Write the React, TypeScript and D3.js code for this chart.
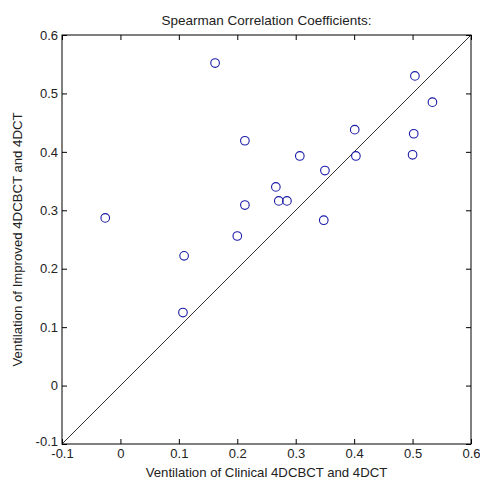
import React, { useRef, useEffect } from "react";
import * as d3 from "d3";

// values
const clinical = [0.162, 0.213, 0.307, 0.266, 0.271, 0.285, 0.213, 0.2, 0.504, 0.534, 0.401, 0.502, 0.403, 0.5, 0.35, 0.348, -0.026, 0.109, 0.107];
const improved = [0.552, 0.419, 0.393, 0.34, 0.316, 0.316, 0.309, 0.256, 0.53, 0.485, 0.438, 0.431, 0.393, 0.395, 0.368, 0.283, 0.287, 0.222, 0.125];
const ticks = [-0.1, 0, 0.1, 0.2, 0.3, 0.4, 0.5, 0.6];
const identity = [-0.1, 0.6];

const App = () => {
  const svgRef = useRef<SVGSVGElement>(null);

  useEffect(() => {
    const svg = d3.select(svgRef.current);
    svg.selectAll("*").remove();

    const width = 480;
    const height = 480;
    const margin = { top: 35, right: 9, bottom: 36, left: 62 };
    const font = "Liberation Sans, Arial, Helvetica, sans-serif";

    svg.append("rect").attr("width", width).attr("height", height).attr("fill", "#fff");

    const x = d3.scaleLinear().domain([-0.1, 0.6]).range([margin.left, width - margin.right]);
    const y = d3.scaleLinear().domain([-0.1, 0.6]).range([height - margin.bottom, margin.top]);

    // plain hyphen for negatives, like matlab
    const fmt = (d: any) => String(+(+d).toFixed(1));

    // diagonal
    svg
      .append("path")
      .datum(identity)
      .attr("fill", "none")
      .attr("stroke", "#333")
      .attr("stroke-width", 1)
      .attr("d", d3.line<number>().x((d) => x(d)).y((d) => y(d)));

    // points
    svg
      .append("g")
      .selectAll("circle")
      .data(clinical)
      .join("circle")
      .attr("cx", (d) => x(d))
      .attr("cy", (d, i) => y(improved[i]))
      .attr("r", 4.3)
      .attr("fill", "none")
      .attr("stroke", "#1a1aa6")
      .attr("stroke-width", 1.1);

    // axes (ticks inside, on all sides)
    const styleAxis = (g: any) => {
      g.select(".domain").remove();
      g.selectAll("line").attr("stroke", "#000");
      g.selectAll("text").attr("font-family", font).attr("font-size", 13).attr("fill", "#222");
    };

    svg
      .append("g")
      .attr("transform", `translate(0,${height - margin.bottom})`)
      .call(d3.axisBottom(x).tickValues(ticks).tickFormat(fmt).tickSizeInner(-5).tickSizeOuter(0).tickPadding(5))
      .call(styleAxis);

    svg
      .append("g")
      .attr("transform", `translate(0,${margin.top})`)
      .call(d3.axisTop(x).tickValues(ticks).tickFormat(() => "").tickSizeInner(-5).tickSizeOuter(0))
      .call(styleAxis);

    const yAxis = svg
      .append("g")
      .attr("transform", `translate(${margin.left},0)`)
      .call(d3.axisLeft(y).tickValues(ticks).tickFormat(fmt).tickSizeInner(-5).tickSizeOuter(0).tickPadding(4))
      .call(styleAxis);
    // lowest y label sits just above the x one
    yAxis
      .selectAll("text")
      .filter((d: any) => d === -0.1)
      .attr("dy", "0.1em");

    svg
      .append("g")
      .attr("transform", `translate(${width - margin.right},0)`)
      .call(d3.axisRight(y).tickValues(ticks).tickFormat(() => "").tickSizeInner(-5).tickSizeOuter(0))
      .call(styleAxis);

    // box
    svg
      .append("rect")
      .attr("x", margin.left)
      .attr("y", margin.top)
      .attr("width", width - margin.left - margin.right)
      .attr("height", height - margin.top - margin.bottom)
      .attr("fill", "none")
      .attr("stroke", "#000")
      .attr("stroke-width", 1);

    // title and labels
    svg
      .append("text")
      .attr("x", (margin.left + width - margin.right) / 2)
      .attr("y", 25)
      .attr("text-anchor", "middle")
      .attr("font-family", font)
      .attr("font-size", 13.5)
      .attr("fill", "#222")
      .text("Spearman Correlation Coefficients:");

    svg
      .append("text")
      .attr("x", (margin.left + width - margin.right) / 2)
      .attr("y", 477)
      .attr("text-anchor", "middle")
      .attr("font-family", font)
      .attr("font-size", 13.2)
      .attr("fill", "#222")
      .text("Ventilation of Clinical 4DCBCT and 4DCT");

    svg
      .append("text")
      .attr("transform", `translate(22,${(margin.top + height - margin.bottom) / 2}) rotate(-90)`)
      .attr("text-anchor", "middle")
      .attr("font-family", font)
      .attr("font-size", 13.2)
      .attr("fill", "#222")
      .text("Ventilation of Improved 4DCBCT and 4DCT");
  }, []);

  return (
    <svg
      ref={svgRef}
      width={480}
      height={480}
      style={{ position: "absolute", left: 0, top: 0 }}
    ></svg>
  );
};

export default App;
